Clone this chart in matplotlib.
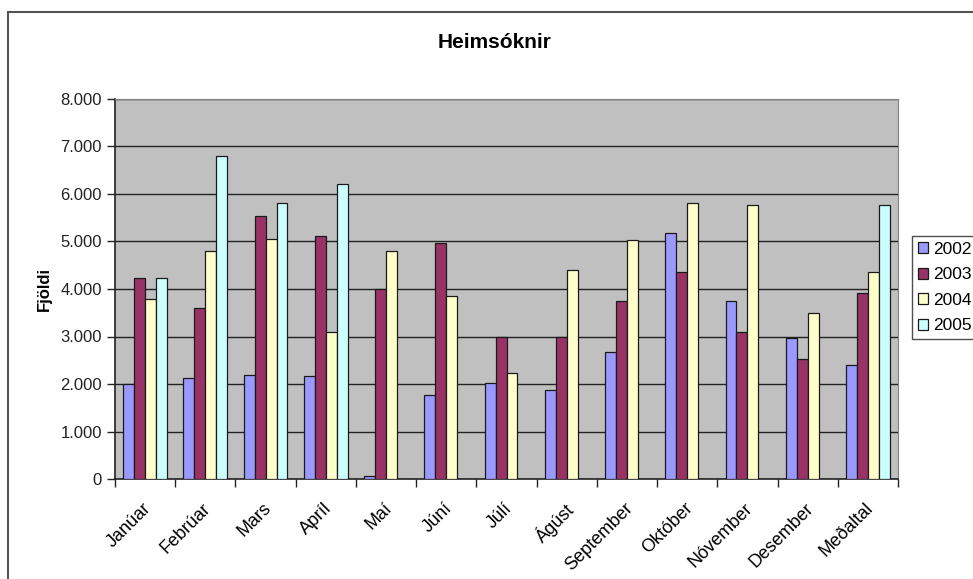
import matplotlib
matplotlib.use("Agg")
import matplotlib.pyplot as plt
import numpy as np
from matplotlib.patches import Rectangle
from matplotlib.ticker import FuncFormatter

plt.rcParams['font.family'] = ['Liberation Sans', 'DejaVu Sans']

months = ['Janúar', 'Febrúar', 'Mars', 'Apríl', 'Maí', 'Júní', 'Júlí',
          'Ágúst', 'September', 'Október', 'Nóvember', 'Desember', 'Meðaltal']
years = ['2002', '2003', '2004', '2005']
nan = np.nan
v2002 = [1990, 2130, 2180, 2160, 60, 1770, 2020, 1880, 2670, 5180, 3740, 2970, 2400]
v2003 = [4240, 3600, 5530, 5120, 3990, 4960, 3000, 2990, 3750, 4350, 3090, 2530, 3910]
v2004 = [3790, 4790, 5050, 3090, 4790, 3860, 2230, 4400, 5040, 5820, 5770, 3490, 4350]
v2005 = [4240, 6810, 5810, 6210, nan, nan, nan, nan, nan, nan, nan, nan, 5770]
series = [v2002, v2003, v2004, v2005]
colors = ['#9999FF', '#993366', '#FFFFCC', '#CCFFFF']

fig = plt.figure(figsize=(9.73, 5.79), dpi=100)
ax = fig.add_axes([115 / 973, 1 - 479 / 579, 783 / 973, 380 / 579])
ax.set_facecolor('#C0C0C0')

x = np.arange(len(months)) + 0.5
w = 1 / 5.5
for k, (vals, c, yr) in enumerate(zip(series, colors, years)):
    vals = np.array(vals, dtype=float)
    ok = ~np.isnan(vals)
    ax.bar((x + (k - 1.5) * w)[ok], vals[ok], width=w, color=c,
           edgecolor='#1a1a1a', linewidth=0.9, label=yr, zorder=3)

ax.set_xlim(0, len(months))
ax.set_ylim(0, 8000)
ax.set_yticks(np.arange(0, 8001, 1000))
ax.yaxis.set_major_formatter(FuncFormatter(lambda v, p: f"{int(v):,}".replace(',', '.')))
ax.grid(axis='y', color='#222222', linewidth=1.0, zorder=1)
ax.set_axisbelow(True)

ax.set_xticks(np.arange(0, len(months) + 1))
ax.set_xticklabels([])
ax.set_xticks(x - 0.05, minor=True)
ax.set_xticklabels(months, minor=True, rotation=45, ha='right', va='top',
                   fontsize=13, rotation_mode='anchor')
ax.tick_params(axis='x', which='minor', length=0, pad=15)
ax.tick_params(axis='x', which='major', length=6, width=1, color='#222222')
ax.tick_params(axis='y', length=6, width=1, color='#222222', labelsize=12,
               labelcolor='#222222')

for side in ['top', 'right']:
    ax.spines[side].set_color('#808080')
for side in ['left', 'bottom']:
    ax.spines[side].set_color('#222222')
    ax.spines[side].set_linewidth(1.2)

ax.set_ylabel('Fjöldi', fontsize=12, fontweight='bold', labelpad=6)
fig.text(495 / 973, 1 - 42 / 579, 'Heimsóknir', ha='center', va='center',
         fontsize=15, fontweight='bold')

leg = ax.legend(loc='upper left', bbox_to_anchor=(912 / 973, 1 - 236 / 579),
                bbox_transform=fig.transFigure, fontsize=12.5, frameon=True,
                fancybox=False, edgecolor='#222222', handlelength=0.6,
                handleheight=0.6, handletextpad=0.25, borderpad=0.35,
                borderaxespad=0, labelspacing=0.6)
leg.get_frame().set_linewidth(1.0)

fig.patches.append(Rectangle((8 / 973, -0.1), 1.2, 1 - 12 / 579 + 0.1,
                             transform=fig.transFigure, fill=False,
                             edgecolor='#555555', linewidth=1.5))

fig.savefig('out.png', dpi=100)
